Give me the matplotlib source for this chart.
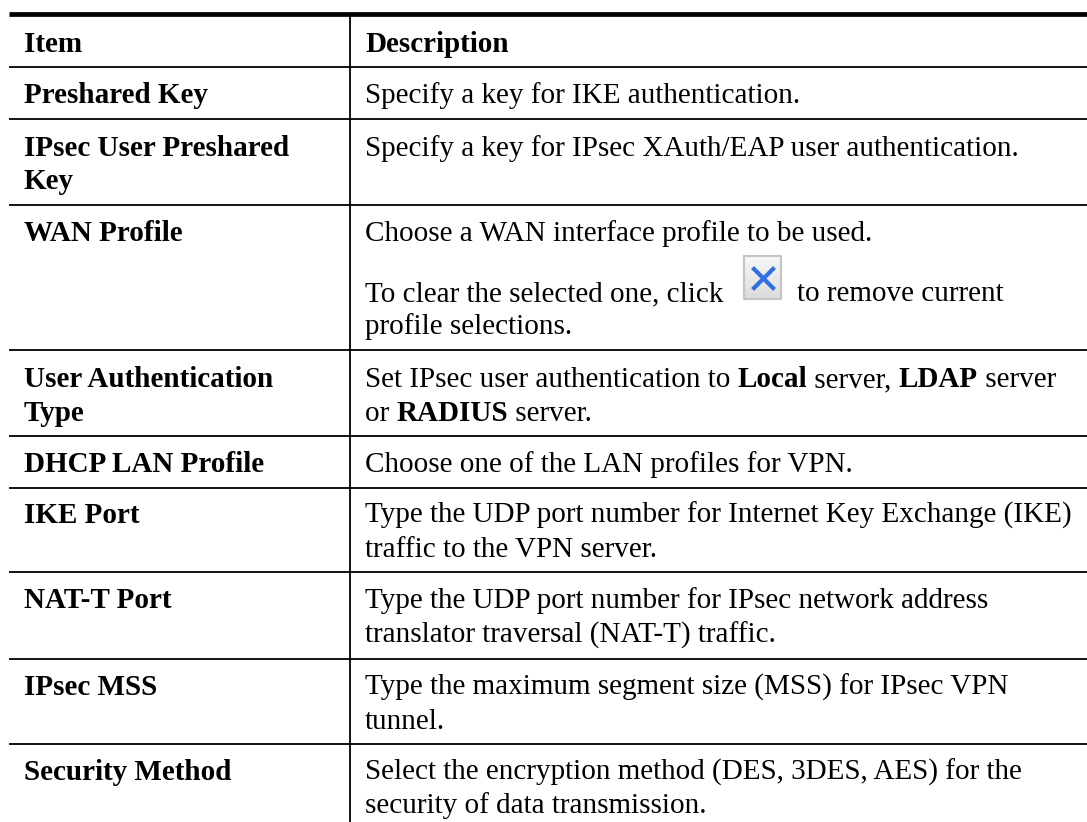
import numpy as np
import matplotlib
matplotlib.use("Agg")
import matplotlib.pyplot as plt

W, H = 1087, 822
plt.rcParams['font.family'] = 'Liberation Serif'
FS = 21.0

# left column: text and baselines
items = ["Item", "Preshared Key", "IPsec User Preshared", "Key", "WAN Profile",
         "User Authentication", "Type", "DHCP LAN Profile", "IKE Port",
         "NAT-T Port", "IPsec MSS", "Security Method"]
item_base = [52, 103, 156, 189, 241, 387, 421, 472, 523, 608, 695, 780]

# right column: each line is a list of (text, bold) runs
desc = [
    [("Description", True)],
    [("Specify a key for IKE authentication.", False)],
    [("Specify a key for IPsec XAuth/EAP user authentication.", False)],
    [("Choose a WAN interface profile to be used.", False)],
    [("To clear the selected one, click", False)],
    [("to remove current", False)],
    [("profile selections.", False)],
    [("Set IPsec user authentication to ", False), ("Local", True), (" server, ", False),
     ("LDAP", True), (" server", False)],
    [("or ", False), ("RADIUS", True), (" server.", False)],
    [("Choose one of the LAN profiles for VPN.", False)],
    [("Type the UDP port number for Internet Key Exchange (IKE)", False)],
    [("traffic to the VPN server.", False)],
    [("Type the UDP port number for IPsec network address", False)],
    [("translator traversal (NAT-T) traffic.", False)],
    [("Type the maximum segment size (MSS) for IPsec VPN", False)],
    [("tunnel.", False)],
    [("Select the encryption method (DES, 3DES, AES) for the", False)],
    [("security of data transmission.", False)],
]
desc_x = [365, 365, 365, 365, 365, 797, 365, 365, 365, 365, 365, 365, 365, 365, 365, 365, 365, 365]
desc_base = [52, 103, 156, 241, 301, 301, 334, 387, 421, 472, 523, 557, 608, 643, 695, 729, 780, 813]

rules = [67, 119, 205, 350, 436, 488, 572, 659, 744]

fig = plt.figure(figsize=(W / 100, H / 100), dpi=100)
ax = fig.add_axes([0, 0, 1, 1])
ax.set_xlim(0, W)
ax.set_ylim(H, 0)
ax.axis('off')

ax.plot([9, W], [14.5, 14.5], color='black', lw=3.4, solid_capstyle='butt')
for y in rules:
    ax.plot([9, W], [y, y], color='black', lw=1.3, solid_capstyle='butt')
ax.plot([350, 350], [14, H], color='black', lw=1.3, solid_capstyle='butt')

for txt, y in zip(items, item_base):
    ax.text(24, y, txt, fontsize=FS, fontweight='bold', va='baseline', ha='left')

rend = fig.canvas.get_renderer()


def run_width(s, bold):
    # bar on the end so trailing spaces count
    t = ax.text(0, 0, s + "|", fontsize=FS, fontweight='bold' if bold else 'normal')
    w = t.get_window_extent(rend).width
    t.set_text("|")
    w -= t.get_window_extent(rend).width
    t.remove()
    return w


for runs, x, y in zip(desc, desc_x, desc_base):
    for s, bold in runs:
        ax.text(x, y, s, fontsize=FS, fontweight='bold' if bold else 'normal',
                va='baseline', ha='left')
        x += run_width(s, bold)

# remove button icon
grad = np.linspace(0.97, 0.86, 32).reshape(-1, 1)
ax.imshow(grad, extent=[744, 781, 299, 256], cmap='gray', vmin=0, vmax=1, aspect='auto', zorder=2)
ax.set_xlim(0, W)
ax.set_ylim(H, 0)
ax.plot([744, 781, 781, 744, 744], [256, 256, 299, 299, 256], color='#c4c4c4', lw=1.5, zorder=3)
ax.plot([754, 773], [269, 288], color='#2f6fe0', lw=3, zorder=4)
ax.plot([754, 773], [288, 269], color='#2f6fe0', lw=3, zorder=4)

fig.savefig('out.png', dpi=100)
